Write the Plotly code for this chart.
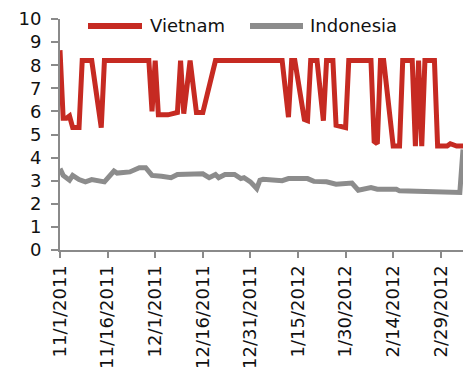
import plotly.graph_objects as go

# Vietnam series (date, value)
vn_dates = [
    "2011-11-01", "2011-11-02", "2011-11-03", "2011-11-04", "2011-11-05", "2011-11-07",
    "2011-11-08", "2011-11-11", "2011-11-14", "2011-11-15", "2011-11-29", "2011-11-30",
    "2011-12-01", "2011-12-02", "2011-12-05", "2011-12-08", "2011-12-09", "2011-12-10",
    "2011-12-12", "2011-12-14", "2011-12-16", "2011-12-20", "2012-01-10", "2012-01-12",
    "2012-01-13", "2012-01-14", "2012-01-17", "2012-01-18", "2012-01-19", "2012-01-21",
    "2012-01-23", "2012-01-24", "2012-01-26", "2012-01-27", "2012-01-30", "2012-01-31",
    "2012-02-07", "2012-02-08", "2012-02-09", "2012-02-10", "2012-02-11", "2012-02-14",
    "2012-02-16", "2012-02-17", "2012-02-20", "2012-02-21", "2012-02-22", "2012-02-23",
    "2012-02-24", "2012-02-27", "2012-02-28", "2012-03-02", "2012-03-03", "2012-03-05",
    "2012-03-07",
]
vn_values = [
    8.65, 5.7, 5.7, 5.8, 5.3, 5.3,
    8.2, 8.2, 5.3, 8.2, 8.2, 6.0,
    8.2, 5.85, 5.85, 5.95, 8.2, 5.9,
    8.2, 5.95, 5.95, 8.2, 8.2, 5.75,
    8.2, 8.2, 5.65, 5.6, 8.2, 8.2,
    5.6, 8.2, 8.2, 5.4, 5.3, 8.2,
    8.2, 4.7, 4.6, 8.2, 8.2, 4.5,
    4.5, 8.2, 8.2, 4.5, 8.2, 4.5,
    8.2, 8.2, 4.5, 4.5, 4.6, 4.5,
    4.5,
]

# Indonesia series (date, value)
id_dates = [
    "2011-11-01", "2011-11-02", "2011-11-04", "2011-11-05", "2011-11-07", "2011-11-09",
    "2011-11-11", "2011-11-15", "2011-11-18", "2011-11-19", "2011-11-23", "2011-11-26",
    "2011-11-28", "2011-11-30", "2011-12-03", "2011-12-06", "2011-12-08", "2011-12-16",
    "2011-12-18", "2011-12-20", "2011-12-21", "2011-12-23", "2011-12-26", "2011-12-28",
    "2011-12-29", "2011-12-31", "2012-01-02", "2012-01-03", "2012-01-04", "2012-01-10",
    "2012-01-12", "2012-01-18", "2012-01-20", "2012-01-24", "2012-01-27", "2012-02-01",
    "2012-02-03", "2012-02-05", "2012-02-07", "2012-02-09", "2012-02-15", "2012-02-16",
    "2012-02-22", "2012-02-25", "2012-03-06", "2012-03-07",
]
id_values = [
    3.52, 3.23, 3.02, 3.23, 3.05, 2.95,
    3.05, 2.95, 3.42, 3.33, 3.38, 3.56,
    3.56, 3.23, 3.19, 3.13, 3.27, 3.3,
    3.13, 3.27, 3.13, 3.27, 3.27, 3.09,
    3.13, 2.95, 2.66, 3.02, 3.06, 3.0,
    3.09, 3.09, 2.97, 2.95, 2.85, 2.9,
    2.59, 2.62, 2.7, 2.63, 2.63, 2.56,
    2.55, 2.52, 2.49, 4.35,
]

series_names = ["Vietnam", "Indonesia"]
series_colors = ["#C62A22", "#8C8C8C"]

tick_dates = [
    "2011-11-01", "2011-11-16", "2011-12-01", "2011-12-16", "2011-12-31",
    "2012-01-15", "2012-01-30", "2012-02-14", "2012-02-29",
]
tick_labels = [
    "11/1/2011", "11/16/2011", "12/1/2011", "12/16/2011", "12/31/2011",
    "1/15/2012", "1/30/2012", "2/14/2012", "2/29/2012",
]
y_ticks = list(range(0, 11))

W, H = 471, 377
M_L, M_R, M_T, M_B = 60, 8, 19, 125
FONT = "DejaVu Sans"
AXIS_GREY = "#8A8A8A"

fig = go.Figure()
for name, xs, ys, col in zip(series_names, [vn_dates, id_dates], [vn_values, id_values], series_colors):
    fig.add_trace(go.Scatter(
        x=xs, y=ys, name=name, mode="lines",
        line=dict(color=col, width=5),
        showlegend=False,
    ))

# Legend drawn in paper space: a thick line sample followed by its label
plot_w = W - M_L - M_R
plot_h = H - M_T - M_B


def px_x(p):
    return (p - M_L) / plot_w


def px_y(p):
    return (H - M_B - p) / plot_h


legend_items = [(88, 142, 148), (250, 303, 308)]
for (x0, x1, xt), name, col in zip(legend_items, series_names, series_colors):
    fig.add_shape(type="line", xref="paper", yref="paper",
                  x0=px_x(x0), x1=px_x(x1), y0=px_y(26), y1=px_y(26),
                  line=dict(color=col, width=6))
    fig.add_annotation(xref="paper", yref="paper", x=px_x(xt), y=px_y(26),
                       text=name, showarrow=False, xanchor="left", yanchor="middle",
                       font=dict(family=FONT, size=18, color="#111111"))

fig.update_layout(
    width=W, height=H,
    margin=dict(l=M_L, r=M_R, t=M_T, b=M_B),
    paper_bgcolor="white", plot_bgcolor="white",
    font=dict(family=FONT, size=18, color="#111111"),
)
fig.update_xaxes(
    type="date", range=["2011-11-01", "2012-03-07"],
    tickvals=tick_dates, ticktext=tick_labels, tickangle=-90,
    showgrid=False, zeroline=False,
    showline=True, linecolor=AXIS_GREY, linewidth=2,
    ticks="outside", ticklen=6, tickwidth=2, tickcolor=AXIS_GREY,
    tickfont=dict(family=FONT, size=18, color="#111111"),
)
fig.update_yaxes(
    range=[0, 10], tickvals=y_ticks,
    showgrid=False, zeroline=False,
    showline=True, linecolor=AXIS_GREY, linewidth=2,
    ticks="outside", ticklen=7, tickwidth=2, tickcolor=AXIS_GREY,
    tickfont=dict(family=FONT, size=18, color="#111111"),
    ticklabelstandoff=6,
)

fig.write_html("out.html")
